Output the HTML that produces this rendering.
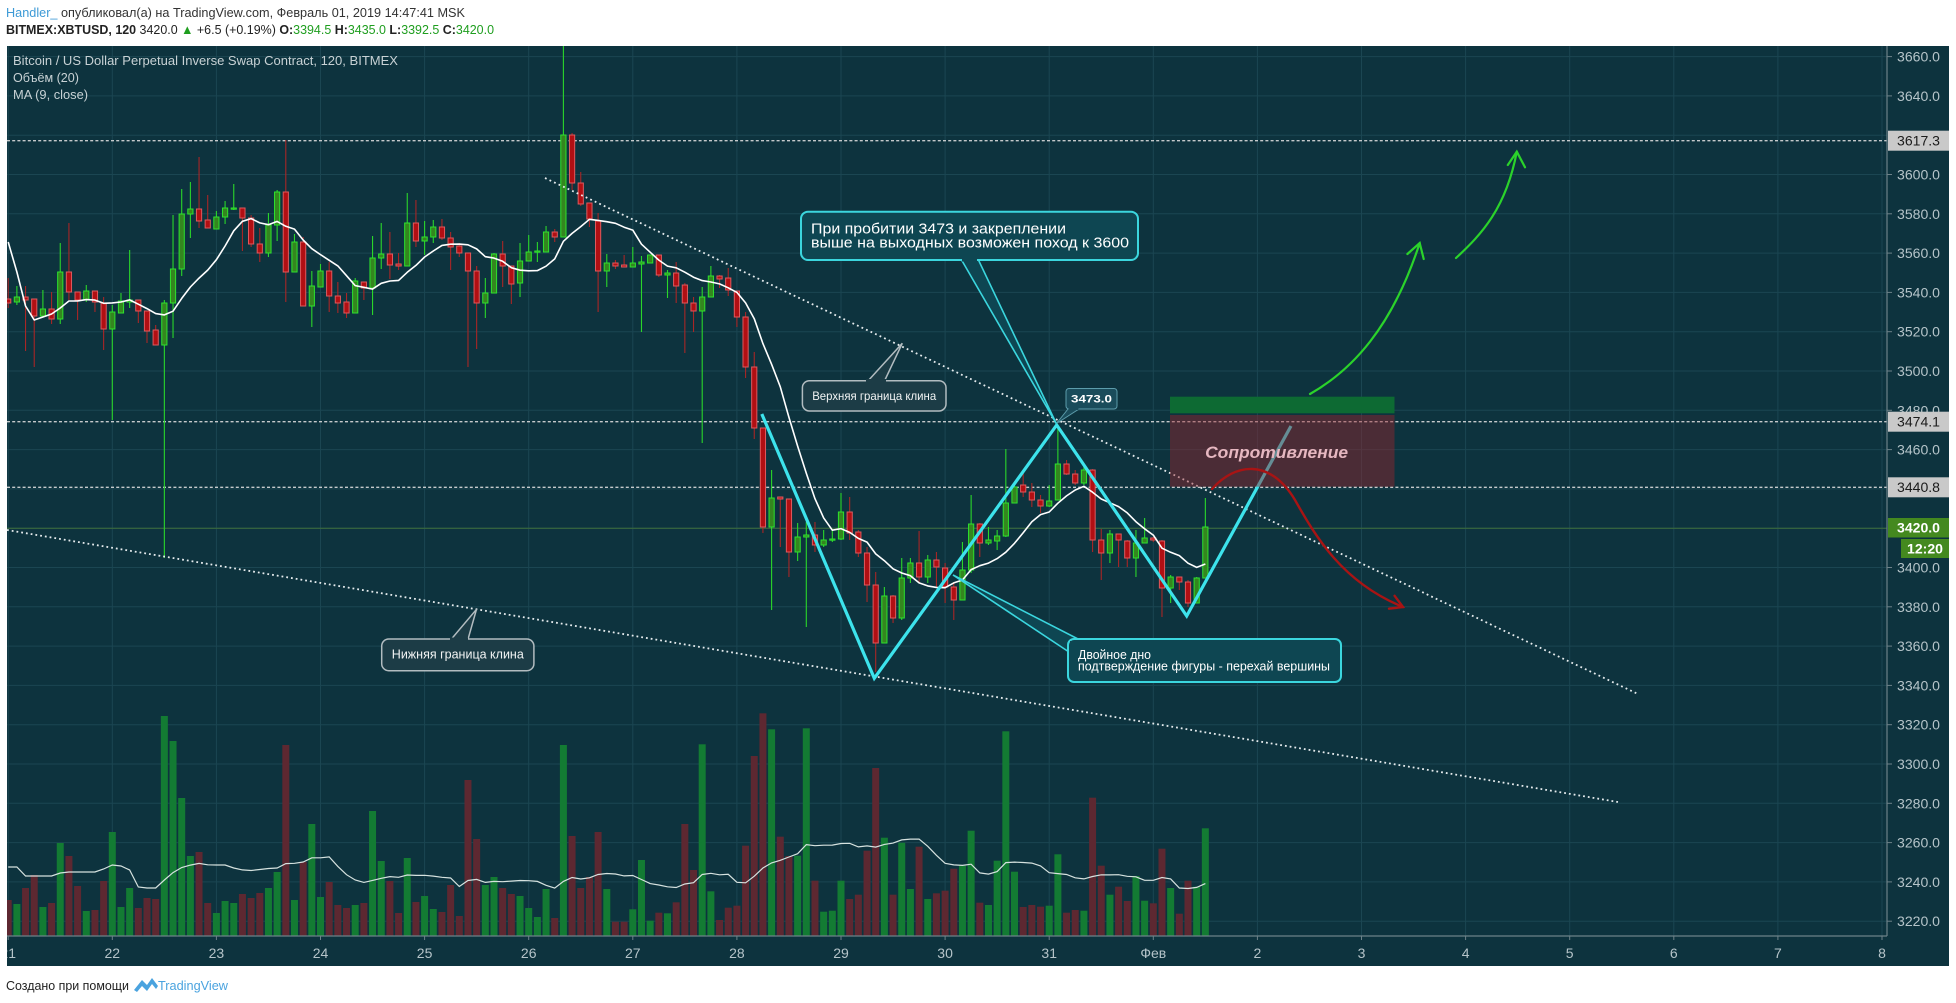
<!DOCTYPE html>
<html><head><meta charset="utf-8">
<style>
html,body{margin:0;padding:0;background:#fff;}
body{width:1956px;height:1003px;overflow:hidden;}
svg{display:block;font-family:"Liberation Sans","DejaVu Sans",sans-serif;}
</style></head><body>
<svg id="s" width="1956" height="1003" viewBox="0 0 1956 1003" xmlns="http://www.w3.org/2000/svg">
<defs>
<clipPath id="pc"><rect x="7" y="46" width="1880" height="890"/></clipPath>
<clipPath id="cc"><rect x="7" y="46" width="1942" height="920"/></clipPath>
</defs>
<rect x="0" y="0" width="1956" height="1003" fill="#ffffff"/>
<!-- header -->
<text x="6" y="17" font-size="13" textLength="459" lengthAdjust="spacingAndGlyphs"><tspan fill="#3d9ad6">Handler_</tspan><tspan fill="#333"> опубликовал(а) на TradingView.com, Февраль 01, 2019 14:47:41 MSK</tspan></text>
<text x="6" y="34" font-size="13" textLength="488" lengthAdjust="spacingAndGlyphs" fill="#222"><tspan font-weight="bold">BITMEX:XBTUSD, 120</tspan> 3420.0 <tspan fill="#1f9e1f">▲</tspan> +6.5 (+0.19%) <tspan font-weight="bold">O:</tspan><tspan fill="#1f9e1f">3394.5</tspan> <tspan font-weight="bold">H:</tspan><tspan fill="#1f9e1f">3435.0</tspan> <tspan font-weight="bold">L:</tspan><tspan fill="#1f9e1f">3392.5</tspan> <tspan font-weight="bold">C:</tspan><tspan fill="#1f9e1f">3420.0</tspan></text>

<!-- chart background -->
<rect x="7" y="46" width="1942" height="920" fill="#0d333e"/>
<g id="grid"></g>
<g id="vol" clip-path="url(#pc)"></g>

<!-- horizontal dashed price lines -->
<g stroke="#c6cacc" stroke-width="1.4" stroke-dasharray="3 2.2">
<line x1="7" x2="1887" y1="140.7" y2="140.7"/>
<line x1="7" x2="1887" y1="421.7" y2="421.7"/>
<line x1="7" x2="1887" y1="487.3" y2="487.3"/>
</g>
<line x1="7" x2="1887" y1="528.2" y2="528.2" stroke="#3f6f3a" stroke-width="1"/>

<g id="cand" clip-path="url(#pc)"></g>

<!-- legend -->
<text x="13" y="65" font-size="12.5" fill="#c8d2d5" textLength="385" lengthAdjust="spacingAndGlyphs">Bitcoin / US Dollar Perpetual Inverse Swap Contract, 120, BITMEX</text>
<text x="13" y="82" font-size="12.5" fill="#c8d2d5" textLength="66" lengthAdjust="spacingAndGlyphs">Объём (20)</text>
<text x="13" y="99" font-size="12.5" fill="#c8d2d5" textLength="75" lengthAdjust="spacingAndGlyphs">MA (9, close)</text>

<g clip-path="url(#pc)">
<!-- wedge dotted lines -->
<line x1="545" y1="178" x2="1638" y2="694" stroke="#e6ecee" stroke-width="1.8" stroke-dasharray="1.8 3.2"/>
<line x1="7" y1="530" x2="1618" y2="802" stroke="#e6ecee" stroke-width="1.8" stroke-dasharray="1.8 3"/>

<!-- W pattern -->
<polyline points="761.8,414 874.3,678.3 1056.7,425 1186.7,616 1291,426" fill="none" stroke="#3de3ec" stroke-width="3.2" stroke-linejoin="miter"/>

<!-- resistance zone -->
<rect x="1170" y="396.7" width="224.5" height="16.6" fill="#0d6a33"/>
<rect x="1170" y="415" width="224.5" height="71.7" fill="rgba(150,35,45,0.45)"/>
<text x="1276.6" y="458" font-size="17" font-weight="bold" font-style="italic" fill="#e6b7c0" text-anchor="middle" textLength="143" lengthAdjust="spacingAndGlyphs">Сопротивление</text>

<!-- green arrows -->
<g fill="none" stroke="#2bd32b" stroke-width="2.2" stroke-linecap="round">
<path d="M1310 394 C1352 370 1392 328 1419.7 243"/>
<path d="M1407.4 254 L1419.7 243 L1423.7 259"/>
<path d="M1456 258 C1482 234 1506 208 1516.8 151.7"/>
<path d="M1507.8 165 L1516.8 151.7 L1525 167.3"/>
</g>
<!-- red arrow -->
<g fill="none" stroke="#a81414" stroke-width="2.4" stroke-linecap="round">
<path d="M1212 489 C1235 463 1270 458 1295 500 C1316 537 1342 582 1403 607"/>
<path d="M1394.6 595.8 L1403 607 L1389 608.7"/>
</g>

<!-- Callout: upper wedge -->
<polygon points="867,382 902.3,343.3 884,382" fill="#1c3c46" stroke="#b2bcc0" stroke-width="1.5"/>
<rect x="802.4" y="380.7" width="143.6" height="30.3" rx="7" fill="#1c3c46" stroke="#b2bcc0" stroke-width="1.5"/>
<rect x="866" y="379" width="20" height="4" fill="#1c3c46"/>
<text x="874.2" y="400" font-size="12" fill="#f2f4f4" text-anchor="middle" textLength="124" lengthAdjust="spacingAndGlyphs">Верхняя граница клина</text>

<!-- Callout: lower wedge -->
<polygon points="450.6,640 476.5,609.3 467.8,640" fill="#1c3c46" stroke="#b2bcc0" stroke-width="1.5"/>
<rect x="381.7" y="639" width="152.2" height="31.7" rx="7" fill="#1c3c46" stroke="#b2bcc0" stroke-width="1.5"/>
<rect x="450" y="637.5" width="18" height="4" fill="#1c3c46"/>
<text x="457.8" y="658.5" font-size="12.5" fill="#f2f4f4" text-anchor="middle" textLength="132" lengthAdjust="spacingAndGlyphs">Нижняя граница клина</text>

<!-- Callout: 3473.0 -->
<polygon points="1068,409 1056.5,423.5 1079,409" fill="#1a4c5b" stroke="#5c9cab" stroke-width="1"/>
<rect x="1066" y="388.5" width="51" height="20.5" rx="3" fill="#1a4c5b" stroke="#5c9cab" stroke-width="1"/>
<rect x="1068.5" y="407" width="10" height="3" fill="#1a4c5b"/>
<text x="1091.5" y="402.5" font-size="11" font-weight="bold" fill="#ffffff" text-anchor="middle" textLength="41" lengthAdjust="spacingAndGlyphs">3473.0</text>

<!-- Callout: main -->
<polygon points="961,259 1056.5,424 978,259" fill="#0e4652" stroke="#3bd6de" stroke-width="1.6"/>
<rect x="801" y="211.7" width="337" height="48.3" rx="7" fill="#0e4652" stroke="#3bd6de" stroke-width="2"/>
<rect x="962" y="257.5" width="15" height="4" fill="#0e4652"/>
<text x="811" y="233.5" font-size="14.5" fill="#ffffff" textLength="255" lengthAdjust="spacingAndGlyphs">При пробитии 3473 и закреплении</text>
<text x="811" y="247.5" font-size="14.5" fill="#ffffff" textLength="318" lengthAdjust="spacingAndGlyphs">выше на выходных возможен поход к 3600</text>

<!-- Callout: double bottom -->
<polygon points="953,575 1080,640 1069,652" fill="#0e4652" stroke="#3bd6de" stroke-width="1.6"/>
<rect x="1068" y="639" width="273" height="43" rx="6" fill="#0e4652" stroke="#3bd6de" stroke-width="2"/>
<rect x="1070" y="641" width="14" height="12" fill="#0e4652"/>
<text x="1078" y="659" font-size="12.5" fill="#ffffff" textLength="73" lengthAdjust="spacingAndGlyphs">Двойное дно</text>
<text x="1078" y="670.5" font-size="12.5" fill="#ffffff" textLength="252" lengthAdjust="spacingAndGlyphs">подтверждение фигуры - перехай вершины</text>
</g>

<!-- axes -->
<line x1="7" x2="1887" y1="936" y2="936" stroke="#6d8289" stroke-width="1.2"/>
<line x1="1887" x2="1887" y1="46" y2="936" stroke="#6d8289" stroke-width="1.2"/>
<g id="axis" clip-path="url(#cc)"></g>

<!-- price highlight labels -->
<g font-size="13.5">
<rect x="1888" y="130.7" width="61" height="20" fill="#c9c9c9"/>
<text x="1897" y="145.5" fill="#1b1b1b" textLength="43" lengthAdjust="spacingAndGlyphs">3617.3</text>
<rect x="1888" y="411.7" width="61" height="20" fill="#c9c9c9"/>
<text x="1897" y="426.5" fill="#1b1b1b" textLength="43" lengthAdjust="spacingAndGlyphs">3474.1</text>
<rect x="1888" y="477.3" width="61" height="20" fill="#c9c9c9"/>
<text x="1897" y="492.1" fill="#1b1b1b" textLength="43" lengthAdjust="spacingAndGlyphs">3440.8</text>
<rect x="1888" y="518" width="61" height="19.5" fill="#44891f"/>
<text x="1897" y="532.7" fill="#ffffff" font-weight="bold" textLength="43" lengthAdjust="spacingAndGlyphs">3420.0</text>
<rect x="1901" y="539" width="48" height="19" fill="#44891f"/>
<text x="1907" y="553.5" fill="#ffffff" font-weight="bold" textLength="36" lengthAdjust="spacingAndGlyphs">12:20</text>
</g>

<!-- footer -->
<text x="6" y="990" font-size="13" fill="#222" textLength="123" lengthAdjust="spacingAndGlyphs">Создано при помощи</text>
<path d="M134 990 L142 980 L147 985 L152 978 L158 986 L156 989 L152 984 L147 991 L142 986 L137 992 Z" fill="#4aa3df"/>
<text x="158" y="990" font-size="13" fill="#4aa3df" textLength="70" lengthAdjust="spacingAndGlyphs">TradingView</text>
</svg>

<script>
(function(){
var D=`r,299,303,278,308
g,297,302,286,305
r,297,300,286,351
r,299,316,299,367
g,309,316,290,317
r,309,319,292,324
g,272,319,243,324
r,272,292,223,300
r,292,300,292,320
g,291,300,285,302
r,291,302,291,312
r,303,329,297,350
g,312,329,305,420
g,301,313,293,313
g,300,302,250,308
r,300,311,300,323
r,311,331,311,343
r,330,345,325,345
g,303,345,300,558
g,269,303,215,338
g,214,269,189,276
g,209,214,182,238
r,209,221,157,228
r,220,228,195,228
g,217,229,211,229
g,208,217,201,224
g,208,209,184,210
r,208,218,208,251
r,218,244,215,247
r,244,253,228,262
g,225,253,213,257
g,192,225,190,241
r,192,272,140,302
g,242,272,234,272
r,242,306,237,306
g,286,306,271,327
g,271,287,264,287
r,271,296,262,312
r,296,303,282,313
r,302,313,293,318
g,281,313,278,313
r,282,288,282,300
g,258,288,236,315
g,254,258,223,269
r,254,265,232,279
r,264,266,253,270
g,223,266,193,266
r,223,241,200,247
g,237,241,221,255
g,227,237,220,243
r,227,238,219,240
r,238,247,232,270
r,246,253,243,257
r,253,271,253,367
r,271,303,266,349
g,293,303,278,318
g,254,293,253,293
r,254,266,241,287
r,266,284,266,304
g,261,283,243,297
g,252,261,235,261
g,251,252,242,262
g,232,252,226,252
r,232,237,229,242
g,135,237,40,237
r,135,183,133,190
r,183,204,172,206
r,203,219,203,227
r,221,271,213,312
g,263,271,254,287
r,263,266,260,269
r,265,267,255,267
g,263,267,247,267
g,262,264,256,332
g,255,263,255,263
r,255,275,255,277
g,273,275,270,298
r,273,286,262,303
r,285,303,283,353
r,303,311,297,332
g,297,311,287,443
g,276,297,266,297
r,276,279,275,288
r,278,290,268,296
r,291,317,291,327
r,317,367,312,378
r,367,428,352,439
r,428,527,428,533
g,498,527,470,610
r,497,499,497,547
r,499,552,499,577
g,537,552,523,561
g,535,537,522,627
r,535,545,522,552
g,540,545,530,547
g,539,540,530,542
g,512,539,493,540
r,512,533,497,540
r,532,553,530,557
r,553,585,547,602
r,585,643,572,672
g,596,643,587,643
r,596,618,595,623
g,578,618,558,620
g,563,578,558,583
r,563,577,531,583
g,560,577,555,583
r,560,567,552,587
r,568,587,563,603
r,587,600,582,620
g,570,600,542,600
g,524,570,495,573
r,524,543,523,557
g,540,543,527,545
g,536,541,530,550
g,503,536,449,537
g,487,503,483,503
r,485,492,473,497
r,492,500,483,507
r,500,506,495,513
g,501,506,485,507
g,464,500,425,500
r,464,474,460,475
r,474,483,470,485
g,470,483,467,485
r,470,540,469,552
r,540,553,529,580
g,534,553,530,563
r,534,540,534,567
r,541,558,540,567
g,543,558,530,577
g,538,543,518,543
r,538,540,537,542
r,541,588,540,617
g,577,588,575,603
r,577,582,577,590
r,582,603,580,607
g,578,603,577,603
g,527,578,498,578`;
var C=D.trim().split('\n').map(function(s){var a=s.split(',');return [a[0],+a[1],+a[2],+a[3],+a[4]];});
var V=[900,904,888,875,907,903,843,856,886,911,910,881,832,907,888,908,898,899,716,741,798,856,852,903,913,901,903,894,898,893,888,872,745,900,862,824,897,882,905,908,905,903,811,861,881,913,858,902,896,909,912,885,916,780,839,885,877,888,894,896,908,917,889,918,745,836,888,877,832,
889,921.7,921.7,909.3,860,920.7,912.7,913.3,902.3,824,870,744.3,891.3,920,907.7,905.7,845.7,756,713.3,729.3,836.7,856,855.7,728.3,880.7,911.7,910.7,880.7,899,894.7,850.7,768,837.7,894.7,842.7,889,846.7,899,893.3,890.7,868.7,865.7,830.7,902.7,905,860.7,731.3,871.7,907,905,906.7,905.7,854.3,912.7,910,910.7,797.7,865.7,894.7,886.7,901,876,900.7,903.3,848.7,888,913.7,880.7,886.7,828.3];
function X(i){return 8.2+8.675*i;}
function Y(p){return 567.5-(p-3400)*1.965;}
var g='';
for(var p=3220;p<=3660;p+=20){var y=Y(p).toFixed(1);g+='<line x1="7" x2="1887" y1="'+y+'" y2="'+y+'" stroke="#1b4652" stroke-width="1"/>';}
for(var k=0;k<=18;k++){var x=(8.2+104.1*k).toFixed(1);g+='<line x1="'+x+'" x2="'+x+'" y1="46" y2="936" stroke="#1b4652" stroke-width="1"/>';}
document.getElementById('grid').innerHTML=g;
// volume
var v='';
var hts=V.map(function(t){return 936-t;});
for(var i=0;i<C.length;i++){
  var col=C[i][0]=='g'?'#137b33':'#5d2831';
  v+='<rect x="'+(X(i)-3.5).toFixed(2)+'" y="'+V[i]+'" width="7" height="'+(936-V[i]).toFixed(1)+'" fill="'+col+'"/>';
}
var vh=[867,867,876,876,876,876,873,872,872,872,872,869,865,866,870,887,888,888,880];
var vp=[];
for(var i=0;i<C.length;i++){
  var yy;
  if(i<vh.length){yy=vh[i];}else{var s=0;for(var j=i-19;j<=i;j++)s+=hts[j];yy=936-s/20;}
  vp.push(X(i).toFixed(2)+','+yy.toFixed(1));
}
v+='<polyline points="'+vp.join(' ')+'" fill="none" stroke="#d6e2df" stroke-width="1.2"/>';
document.getElementById('vol').innerHTML=v;
// candles
var c='';
for(var i=0;i<C.length;i++){
  var d=C[i],x=X(i),gr=d[0]=='g';
  var wc=gr?'#2ad62a':'#a82626';
  c+='<line x1="'+x.toFixed(2)+'" x2="'+x.toFixed(2)+'" y1="'+d[3]+'" y2="'+d[4]+'" stroke="'+wc+'" stroke-width="1.1"/>';
  var top=d[1],h=Math.max(d[2]-d[1],1.2);
  c+='<rect x="'+(x-2.6).toFixed(2)+'" y="'+top+'" width="5.2" height="'+h+'" fill="'+(gr?'#34861f':'#b10f13')+'" stroke="'+(gr?'#2ee22e':'#de5a5e')+'" stroke-width="1"/>';
}
// MA 9
var cl=C.map(function(d){return d[0]=='g'?d[1]:d[2];});
var mh=[242,272,306,320,317,314,308,301];
var mp=[];
for(var i=0;i<C.length;i++){
  var yy;
  if(i<mh.length){yy=mh[i];}else{var s=0;for(var j=i-8;j<=i;j++)s+=cl[j];yy=s/9;}
  mp.push(X(i).toFixed(2)+','+yy.toFixed(1));
}
c+='<polyline points="'+mp.join(' ')+'" fill="none" stroke="#ffffff" stroke-width="1.6" stroke-linejoin="round"/>';
document.getElementById('cand').innerHTML=c;
// axis labels
var a='';
var skip={3620:1,3440:1,3420:1};
for(var p=3220;p<=3660;p+=20){
  if(skip[p])continue;
  var y=Y(p);
  a+='<line x1="1887" x2="1892" y1="'+y.toFixed(1)+'" y2="'+y.toFixed(1)+'" stroke="#6d8289" stroke-width="1"/>';
  a+='<text x="1897" y="'+(y+5).toFixed(1)+'" font-size="13.5" fill="#b5c4c9" textLength="43" lengthAdjust="spacingAndGlyphs">'+p+'.0</text>';
}
var labs=['21','22','23','24','25','26','27','28','29','30','31','Фев','2','3','4','5','6','7','8'];
for(var k=0;k<labs.length;k++){
  var x=8.2+104.1*k;
  a+='<line x1="'+x.toFixed(1)+'" x2="'+x.toFixed(1)+'" y1="936" y2="940" stroke="#6d8289" stroke-width="1"/>';
  a+='<text x="'+x.toFixed(1)+'" y="958" font-size="14" fill="#b5c4c9" text-anchor="middle">'+labs[k]+'</text>';
}
document.getElementById('axis').innerHTML=a;
})();
</script>
</body></html>
